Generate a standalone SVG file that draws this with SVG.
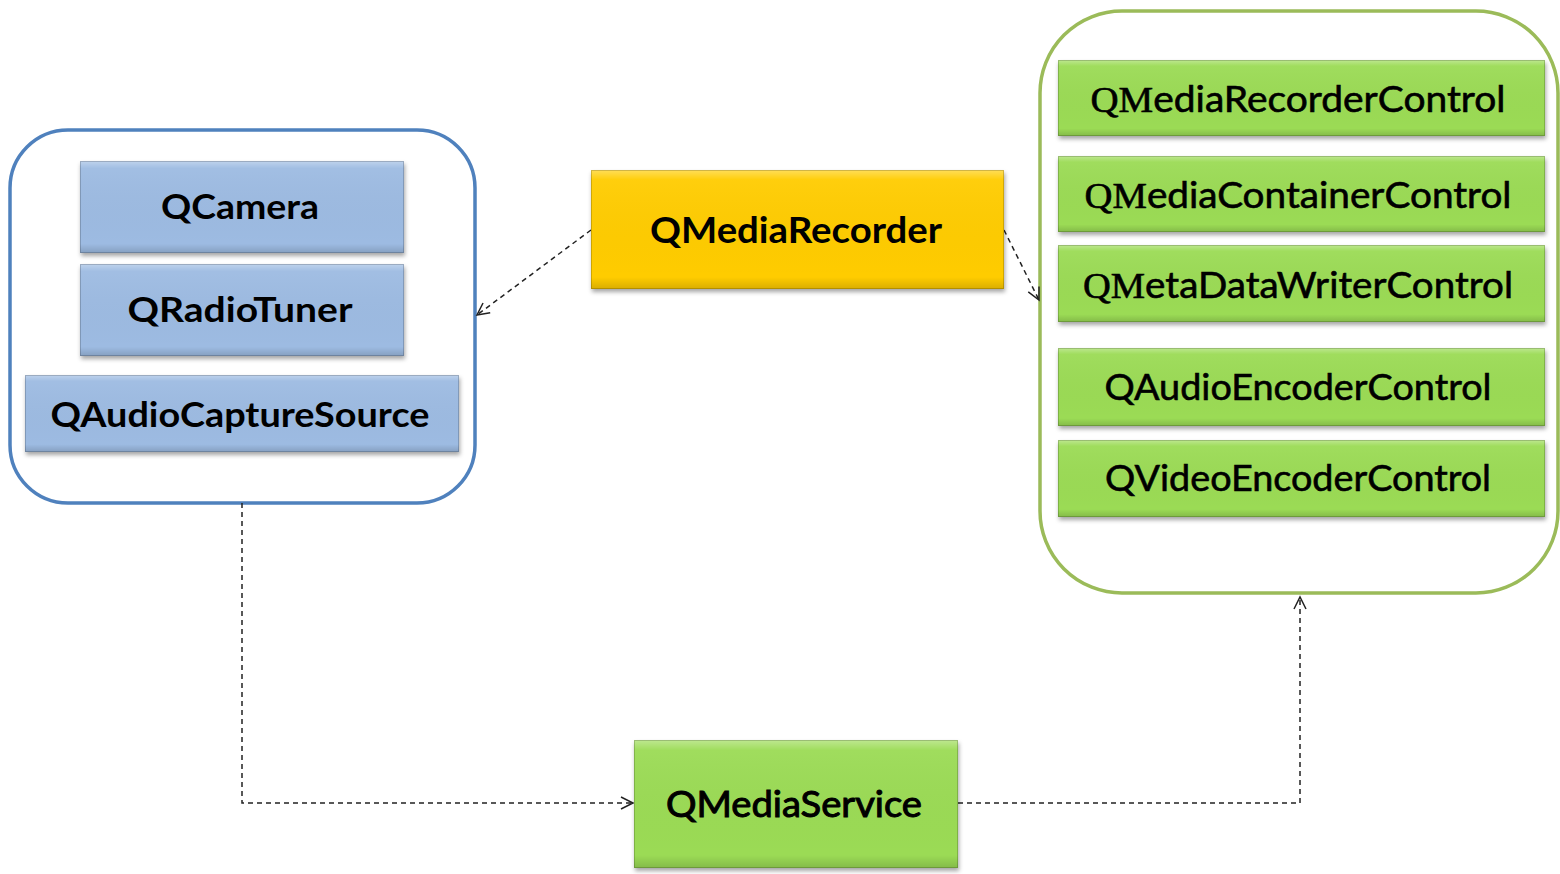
<svg xmlns="http://www.w3.org/2000/svg" width="1560" height="874" viewBox="0 0 1560 874">
<defs>
<style>
.cont-blue{fill:#fff;stroke:#4f81bd;stroke-width:3.5}
.cont-green{fill:#fff;stroke:#9bbb59;stroke-width:3.5}
.blue{fill:#9dbbe2;filter:url(#sh)}
.yellow{fill:#ffcc00;filter:url(#sh)}
.green{fill:#9bdb55;filter:url(#sh)}
.bevel{fill:url(#bev)}
.edge{fill:none;stroke:#000;stroke-opacity:0.18;stroke-width:1}
.tb{font-family:Lato,"Open Sans",sans-serif;font-weight:bold;fill:#000;text-anchor:middle}
.tr{font-family:Lato,"Open Sans",sans-serif;font-weight:normal;fill:#000;stroke:#000;stroke-width:0.6;text-anchor:middle}
.serif{font-family:"Liberation Serif",serif}
.conn{fill:none;stroke:#222;stroke-width:1.5;stroke-dasharray:5 4}
</style>
<linearGradient id="bev" x1="0" y1="0" x2="0" y2="1">
<stop offset="0" stop-color="#fff" stop-opacity="0.35"/>
<stop offset="0.08" stop-color="#fff" stop-opacity="0.05"/>
<stop offset="0.9" stop-color="#000" stop-opacity="0"/>
<stop offset="1" stop-color="#000" stop-opacity="0.15"/>
</linearGradient>
<filter id="sh" x="-5%" y="-10%" width="110%" height="130%">
<feDropShadow dx="1" dy="3" stdDeviation="2" flood-color="#000" flood-opacity="0.35"/>
</filter>
<marker id="arr" markerWidth="16" markerHeight="16" refX="14" refY="8" orient="auto" markerUnits="userSpaceOnUse">
<path d="M2,2 L14,8 L2,14" fill="none" stroke="#222" stroke-width="1.5"/>
</marker>
</defs>
<rect width="1560" height="874" fill="#fff"/>

<g id="group-left">
<rect class="cont-blue" x="10" y="130" width="465" height="373" rx="58"/>
</g>
<g id="group-right">
<rect class="cont-green" x="1040" y="11" width="518" height="582" rx="82"/>
</g>

<g id="connectors">
<path class="conn" d="M591,230 L477,315" marker-end="url(#arr)"/>
<path class="conn" d="M1004,230 L1039,300" marker-end="url(#arr)"/>
<path class="conn" d="M242,503 L242,803 L633,803" marker-end="url(#arr)"/>
<path class="conn" d="M958,803 L1300,803 L1300,597" marker-end="url(#arr)"/>
</g>

<g id="QCamera">
<rect class="blue" x="80" y="161" width="324" height="92"/>
<rect class="bevel" x="80" y="161" width="324" height="92"/>
<rect class="edge" x="80.5" y="161.5" width="323" height="91"/>
<text class="tb" x="240" y="219" font-size="34" textLength="158" lengthAdjust="spacingAndGlyphs">QCamera</text>
</g>
<g id="QRadioTuner">
<rect class="blue" x="80" y="264" width="324" height="92"/>
<rect class="bevel" x="80" y="264" width="324" height="92"/>
<rect class="edge" x="80.5" y="264.5" width="323" height="91"/>
<text class="tb" x="240" y="322" font-size="34" textLength="225" lengthAdjust="spacingAndGlyphs">QRadioTuner</text>
</g>
<g id="QAudioCaptureSource">
<rect class="blue" x="25" y="375" width="434" height="77"/>
<rect class="bevel" x="25" y="375" width="434" height="77"/>
<rect class="edge" x="25.5" y="375.5" width="433" height="76"/>
<text class="tb" x="240" y="427" font-size="34" textLength="379" lengthAdjust="spacingAndGlyphs">QAudioCaptureSource</text>
</g>

<g id="QMediaRecorder">
<rect class="yellow" x="591" y="170" width="413" height="119"/>
<rect class="bevel" x="591" y="170" width="413" height="119"/>
<rect class="edge" x="591.5" y="170.5" width="412" height="118"/>
<text class="tb" x="796" y="243" font-size="36" textLength="292" lengthAdjust="spacingAndGlyphs">QMediaRecorder</text>
</g>

<g id="QMediaRecorderControl">
<rect class="green" x="1058" y="60" width="487" height="76"/>
<rect class="bevel" x="1058" y="60" width="487" height="76"/>
<rect class="edge" x="1058.5" y="60.5" width="486" height="75"/>
<text class="tr" x="1298" y="112" font-size="36" textLength="415" lengthAdjust="spacingAndGlyphs"><tspan class="serif">QM</tspan>ediaRecorderControl</text>
</g>
<g id="QMediaContainerControl">
<rect class="green" x="1058" y="156" width="487" height="76"/>
<rect class="bevel" x="1058" y="156" width="487" height="76"/>
<rect class="edge" x="1058.5" y="156.5" width="486" height="75"/>
<text class="tr" x="1298" y="208" font-size="36" textLength="427" lengthAdjust="spacingAndGlyphs"><tspan class="serif">QM</tspan>ediaContainerControl</text>
</g>
<g id="QMetaDataWriterControl">
<rect class="green" x="1058" y="245" width="487" height="77"/>
<rect class="bevel" x="1058" y="245" width="487" height="77"/>
<rect class="edge" x="1058.5" y="245.5" width="486" height="76"/>
<text class="tr" x="1298" y="298" font-size="36" textLength="430" lengthAdjust="spacingAndGlyphs"><tspan class="serif">QM</tspan>etaDataWriterControl</text>
</g>
<g id="QAudioEncoderControl">
<rect class="green" x="1058" y="348" width="487" height="78"/>
<rect class="bevel" x="1058" y="348" width="487" height="78"/>
<rect class="edge" x="1058.5" y="348.5" width="486" height="77"/>
<text class="tr" x="1298" y="400" font-size="36" textLength="387" lengthAdjust="spacingAndGlyphs">QAudioEncoderControl</text>
</g>
<g id="QVideoEncoderControl">
<rect class="green" x="1058" y="440" width="487" height="77"/>
<rect class="bevel" x="1058" y="440" width="487" height="77"/>
<rect class="edge" x="1058.5" y="440.5" width="486" height="76"/>
<text class="tr" x="1298" y="491" font-size="36" textLength="386" lengthAdjust="spacingAndGlyphs">QVideoEncoderControl</text>
</g>

<g id="QMediaService">
<rect class="green" x="634" y="740" width="324" height="128"/>
<rect class="bevel" x="634" y="740" width="324" height="128"/>
<rect class="edge" x="634.5" y="740.5" width="323" height="127"/>
<text class="tr" x="794" y="817" font-size="36" textLength="256" lengthAdjust="spacingAndGlyphs" style="stroke-width:1">QMediaService</text>
</g>
</svg>
